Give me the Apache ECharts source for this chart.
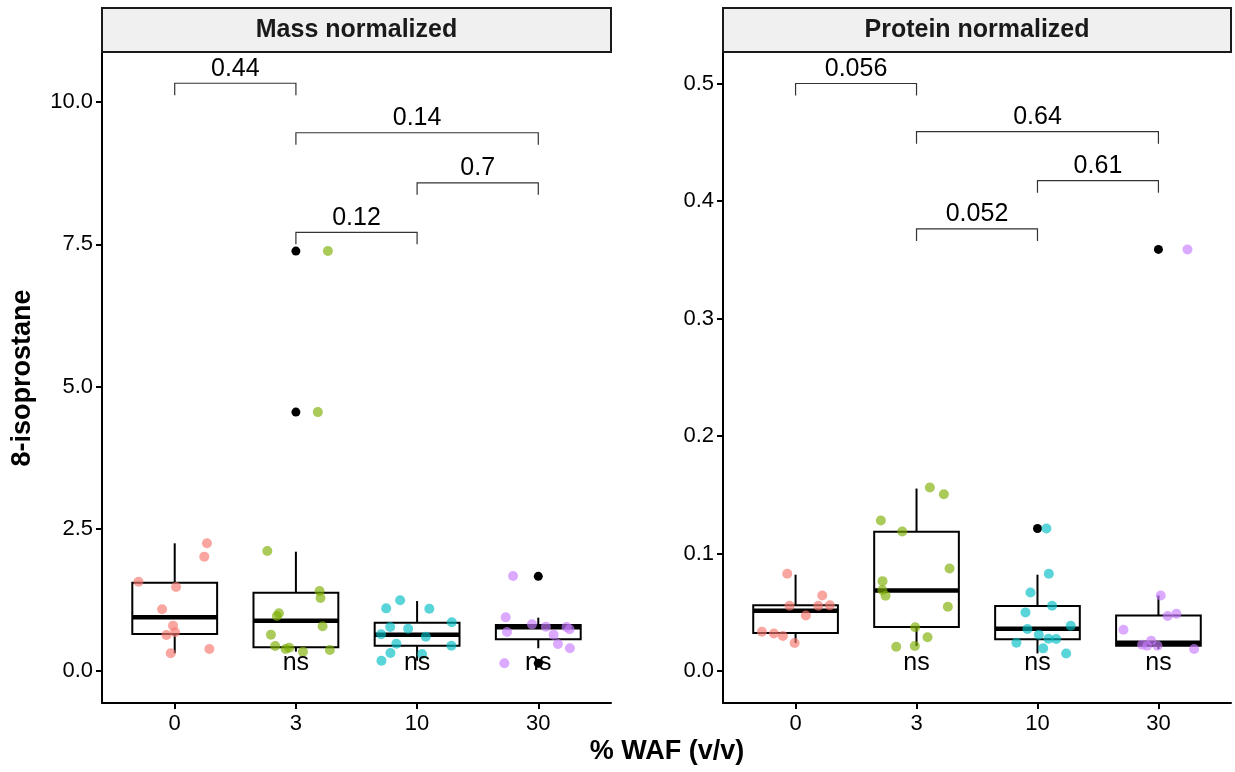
<!DOCTYPE html>
<html><head><meta charset="utf-8">
<script src="https://cdn.jsdelivr.net/npm/echarts@6/dist/echarts.min.js"></script>
<style>html,body{margin:0;padding:0;background:#fff}#c{width:1235px;height:772px}</style>
</head><body><div id="c"></div>
<script>
// ---------- data ----------
const categories = ['0', '3', '10', '30'];
const panelTitles = ['Mass normalized', 'Protein normalized'];
const xTitle = '% WAF (v/v)';
const yTitle = '8-isoprostane';
const yTicksMass = [0, 2.5, 5, 7.5, 10];
const yTicksProtein = [0, 0.1, 0.2, 0.3, 0.4, 0.5];
const groupColors = ['#F8766D', '#7CAE00', '#00BFC4', '#C77CFF'];

// Mass normalized: jittered observations (value, horizontal jitter in category units)
const massValues = [
  [2.244, 2.01, 1.57, 1.476, 1.084, 0.797, 0.633, 0.680, 0.387, 0.311],
  [7.38, 4.55, 2.109, 1.406, 1.283, 1.014, 0.967, 0.785, 0.638, 0.439, 0.387, 0.41, 0.34, 0.369],
  [1.242, 1.101, 1.095, 0.856, 0.773, 0.744, 0.645, 0.603, 0.48, 0.445, 0.316, 0.299, 0.181],
  [1.67, 0.943, 0.82, 0.779, 0.773, 0.733, 0.685, 0.638, 0.474, 0.399, 0.135]
];
const massJitter = [
  [0.266, 0.244, -0.299, 0.011, -0.104, -0.014, -0.068, 0.003, 0.286, -0.033],
  [0.264, 0.181, -0.236, 0.195, 0.203, -0.14, -0.157, 0.22, -0.206, -0.171, -0.085, -0.055, 0.058, 0.28],
  [-0.14, -0.255, 0.101, 0.286, -0.222, -0.074, -0.297, 0.072, -0.171, 0.283, -0.22, 0.041, -0.294],
  [-0.208, -0.269, -0.052, 0.063, 0.233, 0.258, -0.258, 0.126, 0.162, 0.261, -0.28]
];
// box stats: [lower whisker, Q1, median, Q3, upper whisker]
const massBoxes = [
  [0.311, 0.650, 0.943, 1.552, 2.244],
  [0.34, 0.416, 0.884, 1.376, 2.097],
  [0.181, 0.445, 0.638, 0.849, 1.23],
  [0.40, 0.557, 0.77, 0.808, 0.937]
];
const massOutlierGroups = [1, 1, 3, 3];
const massOutlierValues = [7.38, 4.55, 1.664, 0.135];

// Protein normalized
const proteinValues = [
  [0.0828, 0.0643, 0.0556, 0.0556, 0.0559, 0.0473, 0.0334, 0.032, 0.0298, 0.0238],
  [0.1562, 0.1505, 0.1281, 0.1188, 0.0873, 0.0765, 0.0689, 0.064, 0.0547, 0.0372, 0.0287, 0.0207, 0.0213],
  [0.1213, 0.0828, 0.0669, 0.0556, 0.0499, 0.0385, 0.0357, 0.0309, 0.0275, 0.0272, 0.0241, 0.0193, 0.015],
  [0.3588, 0.0643, 0.0487, 0.0468, 0.0351, 0.0258, 0.0224, 0.0215, 0.0215, 0.0187]
];
const proteinJitter = [
  [-0.069, 0.221, -0.05, 0.188, 0.283, 0.085, -0.278, -0.179, -0.105, -0.008],
  [0.11, 0.226, -0.295, -0.118, 0.273, -0.281, -0.283, -0.256, 0.259, -0.011, 0.091, -0.168, -0.014],
  [0.074, 0.094, -0.058, 0.121, -0.099, 0.275, -0.083, 0.011, 0.091, 0.155, -0.174, 0.047, 0.237],
  [0.24, 0.019, 0.149, 0.077, -0.289, -0.06, -0.135, -0.093, -0.008, 0.295]
];
const proteinBoxes = [
  [0.0238, 0.0323, 0.0513, 0.0559, 0.082],
  [0.0213, 0.0374, 0.0686, 0.1185, 0.1553],
  [0.015, 0.027, 0.036, 0.0553, 0.082],
  [0.0187, 0.0215, 0.0241, 0.0473, 0.0643]
];
const proteinOutlierGroups = [2, 3];
const proteinOutlierValues = [0.1213, 0.3588];

// significance brackets
const bracketFrom = [0, 1, 2, 1];
const bracketTo = [1, 3, 3, 2];
const massBracketY = [10.33, 9.46, 8.58, 7.71];
const massPLabels = ['0.44', '0.14', '0.7', '0.12'];
const proteinBracketY = [0.5, 0.459, 0.4173, 0.3762];
const proteinPLabels = ['0.056', '0.64', '0.61', '0.052'];
const nsGroups = [1, 2, 3];
const nsLabel = 'ns';

// ---------- chart ----------
const FONT = '"Liberation Sans", Arial, Helvetica, sans-serif';
const chart = echarts.init(document.getElementById('c'), null, {renderer: 'canvas'});

const grids = [
  {left: 102, top: 52, width: 509, height: 651, containLabel: false, outerBoundsMode: 'none'},
  {left: 723, top: 52, width: 508, height: 651, containLabel: false, outerBoundsMode: 'none'}
];
const yRanges = [[-0.5624, 10.879], [-0.0272, 0.5268]];
const yTickSets = [yTicksMass, yTicksProtein];

const axisLineStyle = {color: '#000', width: 2};
const xAxes = grids.map((g, i) => ({
  gridIndex: i, type: 'value', min: -0.6, max: 3.6,
  splitLine: {show: false},
  axisLine: {onZero: false, lineStyle: axisLineStyle},
  axisTick: {customValues: [0, 1, 2, 3], length: 6, lineStyle: axisLineStyle},
  axisLabel: {customValues: [0, 1, 2, 3], formatter: v => categories[Math.round(v)],
    fontSize: 22, color: '#000', fontFamily: FONT, margin: 10}
}));
const yAxes = grids.map((g, i) => ({
  gridIndex: i, type: 'value', min: yRanges[i][0], max: yRanges[i][1],
  splitLine: {show: false},
  axisLine: {onZero: false, lineStyle: axisLineStyle},
  axisTick: {customValues: yTickSets[i], length: 6, lineStyle: axisLineStyle},
  axisLabel: {customValues: yTickSets[i], formatter: v => v.toFixed(1),
    fontSize: 22, color: '#000', fontFamily: FONT, margin: 9}
}));

function boxRender(params, api) {
  const x = api.value(0);
  const lo = api.coord([x, api.value(1)]);
  const q1 = api.coord([x, api.value(2)]);
  const med = api.coord([x, api.value(3)]);
  const q3 = api.coord([x, api.value(4)]);
  const hi = api.coord([x, api.value(5)]);
  const w = api.size([0.7, 0])[0];
  const cx = lo[0];
  return {type: 'group', children: [
    {type: 'line', shape: {x1: cx, y1: hi[1], x2: cx, y2: q3[1]}, style: {stroke: '#000', lineWidth: 2}},
    {type: 'line', shape: {x1: cx, y1: q1[1], x2: cx, y2: lo[1]}, style: {stroke: '#000', lineWidth: 2}},
    {type: 'rect', shape: {x: cx - w / 2, y: q3[1], width: w, height: q1[1] - q3[1]},
      style: {fill: '#fff', stroke: '#000', lineWidth: 2}},
    {type: 'line', shape: {x1: cx - w / 2, y1: med[1], x2: cx + w / 2, y2: med[1]},
      style: {stroke: '#000', lineWidth: 4.5}}
  ]};
}
function bracketRender(labels) {
  return function (params, api) {
    const a = api.coord([api.value(0), api.value(2)]);
    const b = api.coord([api.value(1), api.value(2)]);
    const leg = 12;
    return {type: 'group', children: [
      {type: 'polyline', shape: {points: [[a[0], a[1] + leg], [a[0], a[1]], [b[0], b[1]], [b[0], b[1] + leg]]},
        style: {stroke: '#333', lineWidth: 1.2, fill: 'none'}},
      {type: 'text', x: (a[0] + b[0]) / 2, y: a[1] - 2,
        style: {text: labels[params.dataIndex], fill: '#000', fontSize: 25, fontFamily: FONT,
          align: 'center', verticalAlign: 'bottom'}}
    ]};
  };
}
function nsRender(params, api) {
  const p = api.coord([api.value(0), api.value(1)]);
  return {type: 'text', x: p[0], y: p[1] - 8,
    style: {text: nsLabel, fill: '#000', fontSize: 25, fontFamily: FONT, align: 'center', verticalAlign: 'middle'}};
}

const series = [];
const panels = [
  {values: massValues, jitter: massJitter, boxes: massBoxes, og: massOutlierGroups, ov: massOutlierValues,
    by: massBracketY, pl: massPLabels},
  {values: proteinValues, jitter: proteinJitter, boxes: proteinBoxes, og: proteinOutlierGroups, ov: proteinOutlierValues,
    by: proteinBracketY, pl: proteinPLabels}
];
panels.forEach((p, i) => {
  series.push({type: 'custom', xAxisIndex: i, yAxisIndex: i, renderItem: boxRender, z: 2,
    encode: {x: 0, y: [1, 2, 3, 4, 5]},
    data: p.boxes.map((b, g) => [g].concat(b))});
  series.push({type: 'scatter', xAxisIndex: i, yAxisIndex: i, symbolSize: 9, z: 3,
    itemStyle: {color: '#000', opacity: 1},
    data: p.og.map((g, k) => [g, p.ov[k]])});
  p.values.forEach((vals, g) => {
    series.push({type: 'scatter', xAxisIndex: i, yAxisIndex: i, symbolSize: 10, z: 4,
      itemStyle: {color: groupColors[g], opacity: 0.65},
      data: vals.map((v, k) => [g + p.jitter[g][k], v])});
  });
  series.push({type: 'custom', xAxisIndex: i, yAxisIndex: i, renderItem: bracketRender(p.pl), z: 5,
    encode: {x: [0, 1], y: 2},
    data: bracketFrom.map((f, k) => [f, bracketTo[k], p.by[k]])});
  series.push({type: 'custom', xAxisIndex: i, yAxisIndex: i, renderItem: nsRender, z: 5,
    encode: {x: 0, y: 1},
    data: nsGroups.map(g => [g, 0])});
});

const graphics = [];
grids.forEach((g, i) => {
  graphics.push({type: 'rect', shape: {x: g.left, y: 8, width: g.width, height: 44},
    style: {fill: '#F0F0F0', stroke: '#1a1a1a', lineWidth: 2}, z: 10});
  graphics.push({type: 'text', x: g.left + g.width / 2, y: 30.5, z: 11,
    style: {text: panelTitles[i], fill: '#1a1a1a', fontSize: 25, fontWeight: 'bold', fontFamily: FONT,
      align: 'center', verticalAlign: 'middle'}});
});
graphics.push({type: 'text', x: 667, y: 752, z: 11,
  style: {text: xTitle, fill: '#000', fontSize: 27, fontWeight: 'bold', fontFamily: FONT,
    align: 'center', verticalAlign: 'middle'}});
graphics.push({type: 'text', x: 23, y: 378, rotation: Math.PI / 2, z: 11,
  style: {text: yTitle, fill: '#000', fontSize: 27, fontWeight: 'bold', fontFamily: FONT,
    align: 'center', verticalAlign: 'middle'}});

chart.setOption({
  animation: false,
  backgroundColor: '#fff',
  grid: grids,
  xAxis: xAxes,
  yAxis: yAxes,
  series: series,
  graphic: graphics
});
</script>
</body></html>
